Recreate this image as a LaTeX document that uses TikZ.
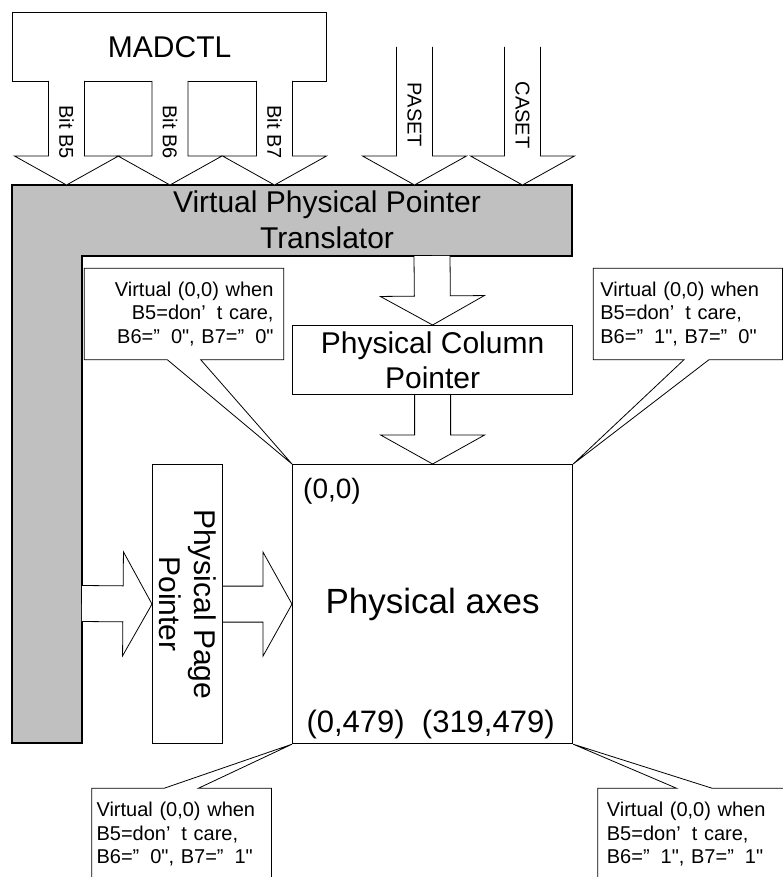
\documentclass[tikz,border=0pt]{standalone}
\usepackage{fontspec}
\setmainfont{Liberation Sans}
\newfontfamily\notefont{Liberation Sans}
\usepackage{tikz}
\usetikzlibrary{calc}
\usepackage{xcolor}
\definecolor{barfill}{RGB}{192,192,192}

% block arrow from tail #1 to tip #2
\newcommand{\blockarrow}[2]{%
  \coordinate (hb) at ($(#2)!29pt!(#1)$);
  \draw[blk] ($(#1)!18pt!90:(#2)$) -- ($(hb)!18pt!90:(#2)$) -- ($(hb)!52pt!90:(#2)$) -- (#2)
    -- ($(hb)!52pt!-90:(#2)$) -- ($(hb)!18pt!-90:(#2)$) -- ($(#1)!18pt!-90:(#2)$);}

\begin{document}
\begin{tikzpicture}[x=1pt,y=-1pt,
  box/.style={draw,line width=1.2pt,inner sep=0pt,anchor=north west,align=center,font=\fontsize{30}{35}\selectfont},
  blk/.style={draw,fill=white,line width=0.8pt},
  lbl/.style={rotate=-90,inner sep=0pt,font=\fontsize{20}{23}\selectfont},
  note/.style={inner sep=0pt,anchor=north west,font=\notefont\fontsize{20}{23.5}\selectfont},
  noteline/.style={draw,line width=0.8pt}]
\useasboundingbox (0,0) rectangle (783,877);
\clip (0,0) rectangle (783,877);

\node[box,minimum width=314pt,minimum height=69pt] (madctl) at (12,12) {MADCTL};
\node[box,minimum width=280pt,minimum height=69pt] (colptr) at (292,325) {Physical Column\\Pointer};
\node[box,minimum width=70pt,minimum height=279pt] (pageptr) at (152,464) {};
\node[lbl,align=center,font=\fontsize{30}{35}\selectfont] (pagetext) at (pageptr.center) {Physical Page\\Pointer};
\node[box,minimum width=280pt,minimum height=279pt,font=\fontsize{35}{40}\selectfont] (axes) at (292,464) {Physical axes};

% translator bar
\draw[line width=1.2pt,fill=barfill] (12,185) -- (572,185) -- (572,256) -- (82,256) -- (82,743) -- (12,743) -- cycle;
\node[align=center,font=\fontsize{30}{36}\selectfont] (vppt) at (327,220) {Virtual Physical Pointer\\Translator};

\foreach \x/\b in {66.5/5,170/6,274.5/7}{
  \coordinate (t\b) at (\x,81);
  \coordinate (h\b) at (\x,185);
  \blockarrow{t\b}{h\b}
  \node[lbl] (bit\b) at (\x,132) {Bit B\b};
}
\coordinate (paset0) at (414.5,47);
\coordinate (paset1) at (414.5,185);
\blockarrow{paset0}{paset1}
\node[lbl] (paset) at (414.5,115) {PASET};
\coordinate (caset0) at (522.5,47);
\coordinate (caset1) at (522.5,185);
\blockarrow{caset0}{caset1}
\node[lbl] (caset) at (522.5,115) {CASET};

\coordinate (tr0) at (432,256);
\blockarrow{tr0}{colptr.north}
\blockarrow{colptr.south}{axes.north}
\coordinate (bar0) at (82,603.5);
\blockarrow{bar0}{pageptr.west}
\blockarrow{pageptr.east}{axes.west}

\node[anchor=west,inner sep=0pt,font=\fontsize{28}{32}\selectfont] (origin) at ($(axes.north west)+(11,27)$) {(0,0)};
\node[inner sep=0pt,font=\fontsize{31}{35}\selectfont] (corners) at ($(axes.south)+(-2,-20)$) {(0,479)\ \ (319,479)};

% callouts
\node[note,minimum width=199pt,minimum height=91pt,text width=179pt,align=right] (vTL) at (84.3,268.3)
  {Virtual (0,0) when\\B5=don’\hspace{0.55em}t care,\\B6=”\hspace{0.55em}0", B7=”\hspace{0.55em}0"};
\draw[noteline] (vTL.north west) -- (vTL.north east) -- (vTL.south east) -- ($(vTL.south west)+(116.4,0)$)
  -- (axes.north west) -- ($(vTL.south west)+(83,0)$) -- (vTL.south west) -- cycle;
\node[note,minimum width=188.7pt,minimum height=91pt,text width=175pt,align=left] (vTR) at (593.3,268.3)
  {Virtual (0,0) when\\B5=don’\hspace{0.55em}t care,\\B6=”\hspace{0.55em}1", B7=”\hspace{0.55em}0"};
\draw[noteline] (vTR.south west) -- (vTR.north west) -- (vTR.north east) -- (vTR.south east)
  -- ($(vTR.south west)+(115.7,0)$) -- (axes.north east) -- ($(vTR.south west)+(90.7,0)$) -- cycle;
\node[note,minimum width=179.3pt,minimum height=92pt,text width=170pt,align=left] (vBL) at (91.7,788.3)
  {Virtual (0,0) when\\B5=don’\hspace{0.55em}t care,\\B6=”\hspace{0.55em}0", B7=”\hspace{0.55em}1"};
\draw[noteline] (vBL.north east) -- ($(vBL.north west)+(106.6,0)$) -- (axes.south west)
  -- ($(vBL.north west)+(72.3,0)$) -- (vBL.north west) -- (vBL.south west) -- (vBL.south east) -- cycle;
\node[note,minimum width=190pt,minimum height=92pt,text width=172pt,align=left] (vBR) at (597.7,788.3)
  {Virtual (0,0) when\\B5=don’\hspace{0.55em}t care,\\B6=”\hspace{0.55em}1", B7=”\hspace{0.55em}1"};
\draw[noteline] (vBR.north east) -- ($(vBR.north west)+(114.6,0)$) -- (axes.south east)
  -- ($(vBR.north west)+(79,0)$) -- (vBR.north west) -- (vBR.south west) -- (vBR.south east) -- cycle;
\end{tikzpicture}
\end{document}
